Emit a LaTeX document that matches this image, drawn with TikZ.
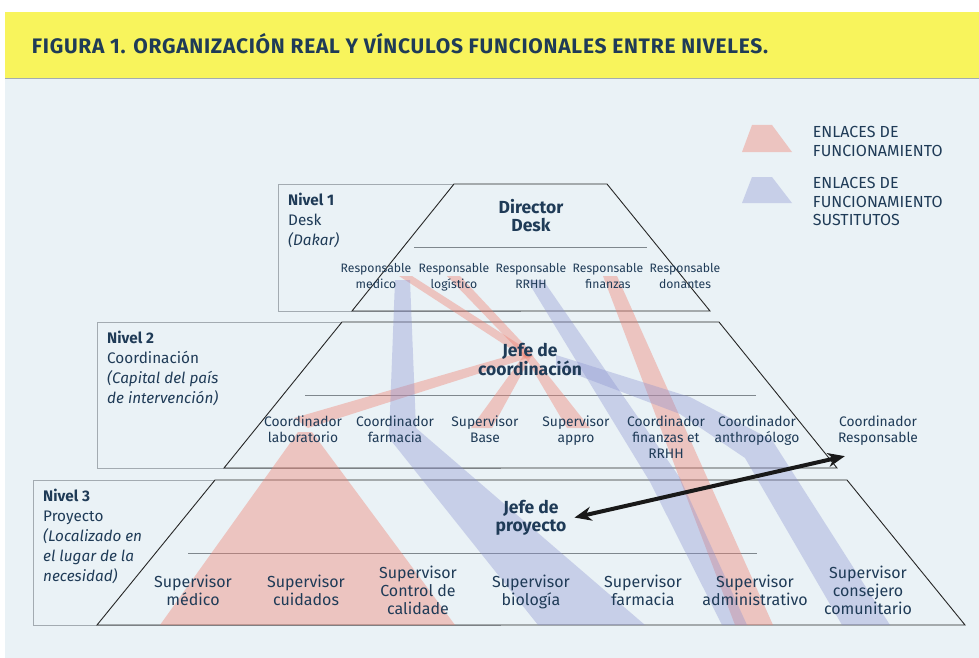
\documentclass[tikz,border=0pt]{standalone}
\usepackage{fontspec}
\setmainfont{Fira Sans}
\newfontfamily\titlefont{Fira Sans}[LetterSpace=3.5]
\usetikzlibrary{arrows.meta}
\definecolor{navy}{HTML}{1F3B57}
\definecolor{paper}{HTML}{EAF2F6}
\definecolor{banner}{HTML}{F8F45C}
\definecolor{linkred}{HTML}{F08070}
\definecolor{linkblue}{HTML}{8890D0}
\definecolor{boxgray}{HTML}{A3ABB1}
\definecolor{sepgray}{HTML}{7F878D}

\begin{document}
\begin{tikzpicture}[x=1pt, y=-1pt]
	\tikzstyle{every node} = [text=navy, inner sep=0pt, align=center]
	\tikzstyle{redlink} = [fill=linkred, fill opacity=0.4]
	\tikzstyle{bluelink} = [fill=linkblue, fill opacity=0.35]
	\tikzstyle{levelbox} = [draw=boxgray, line width=0.8pt]
	\tikzstyle{trap} = [draw=black!85, fill=paper, line width=0.9pt]
	\tikzstyle{sepline} = [draw=sepgray, line width=0.8pt]
	\tikzstyle{boss} = [font=\bfseries\fontsize{17.5}{18.5}\selectfont, anchor=base]
	\tikzstyle{staffA} = [font=\fontsize{12.2}{15.8}\selectfont, anchor=base]
	\tikzstyle{staffB} = [font=\fontsize{13.8}{16}\selectfont, anchor=base]
	\tikzstyle{staffC} = [font=\fontsize{16}{18}\selectfont, anchor=base]
	\tikzstyle{lvltext} = [font=\fontsize{15.3}{20}\selectfont, anchor=base west, align=left]
	\tikzstyle{legtext} = [font=\fontsize{16}{18.7}\selectfont, anchor=base west, align=left]
	\tikzstyle{twoway} = [{Stealth[length=17pt,width=14pt]}-{Stealth[length=17pt,width=14pt]}, line width=4pt, black!90]
	\useasboundingbox (0,0) rectangle (979,658);
	\fill[banner] (5,12) rectangle (979,78);
	\fill[paper] (5,78) rectangle (979,658);
	\draw[boxgray, line width=0.6pt] (5,78) -- (979,78);
	\node[anchor=base west, font=\titlefont\bfseries\fontsize{21}{22}\selectfont] (title) at (31.7,53.3) {FIGURA 1. ORGANIZACIÓN REAL Y VÍNCULOS FUNCIONALES ENTRE NIVELES.};

	\draw[levelbox] (278,184) rectangle (520,311);
	\draw[levelbox] (97,322) rectangle (500,468);
	\draw[levelbox] (33,480) rectangle (500,625);
	\draw[trap] (454,184) -- (607,184) -- (710,311) -- (352,311) -- cycle;
	\draw[trap] (342,322) -- (719,322) -- (837,468) -- (224,468) -- cycle;
	\draw[trap] (215,480) -- (847,480) -- (965,625) -- (97,625) -- cycle;
	\draw[sepline] (414,247) -- (647,247);
	\draw[sepline] (305,395) -- (756,395);
	\draw[sepline] (188,553) -- (757,553);

	\coordinate (hubCoord) at (528,355);
	\fill[redlink] (399,276) -- (412,276) -- (531,352) -- (525,358) -- cycle;
	\fill[redlink] (447,276) -- (460,276) -- (532,353) -- (525,357) -- cycle;
	\fill[redlink] (hubCoord) ++(-6,-3) -- ++(12,4) -- (308,428) -- (294,418) -- cycle;
	\fill[redlink] (hubCoord) ++(-4,0) -- ++(8,0) -- (492,428) -- (471,428) -- cycle;
	\fill[redlink] (hubCoord) ++(-4,0) -- ++(8,0) -- (590,428) -- (567,428) -- cycle;
	\fill[redlink] (298,432) -- (312,432) -- (455,625) -- (160,625) -- cycle;
	\fill[redlink] (603,276) -- (617,276) -- (773,625) -- (735,625) -- cycle;
	\fill[bluelink] (395,280) -- (410,280) -- (416,428) -- (645,625) -- (538,625) -- (389,438) -- cycle;
	\fill[bluelink] (527,280) -- (543,280) -- (680,478) -- (747,625) -- (722,625) -- (650,482) -- cycle;
	\fill[bluelink] (556,355) -- (690,397) -- (772,440) -- (890,625) -- (842,625) -- (745,458) -- (680,414) -- (556,367) -- cycle;

	\fill[redlink] (752,125) -- (772,125) -- (792,152) -- (742,152) -- cycle;
	\fill[bluelink] (752,177) -- (772,177) -- (792,203) -- (742,203) -- cycle;
	\node[legtext] (legRed) at (812.7,156) {ENLACES DE\\FUNCIONAMIENTO};
	\node[legtext] (legBlue) at (812.7,225.7) {ENLACES DE\\FUNCIONAMIENTO\\SUSTITUTOS};

	\node[lvltext] (nivel1) at (288,245.5) {\textbf{Nivel 1}\\Desk\\\textit{(Dakar)}};
	\node[lvltext] (nivel2) at (107,403) {\textbf{Nivel 2}\\Coordinación\\\textit{(Capital del país}\\\textit{de intervención)}};
	\node[lvltext] (nivel3) at (43,581.5) {\textbf{Nivel 3}\\Proyecto\\\textit{(Localizado en}\\\textit{el lugar de la}\\\textit{necesidad)}};

	\node[boss] (director) at (531,231.5) {Director\\Desk};
	\node[staffA] (respMed) at (376,288.3) {Responsable\\medico};
	\node[staffA] (respLog) at (454,288.3) {Responsable\\logístico};
	\node[staffA] (respRRHH) at (531,288.3) {Responsable\\RRHH};
	\node[staffA] (respFin) at (608,288.3) {Responsable\\finanzas};
	\node[staffA] (respDon) at (685,288.3) {Responsable\\donantes};

	\node[boss] (jefeCoord) at (530,375) {Jefe de\\coordinación};
	\node[staffB] (coordLab) at (303,442) {Coordinador\\laboratorio};
	\node[staffB] (coordFarm) at (395,442) {Coordinador\\farmacia};
	\node[staffB] (supBase) at (485,442) {Supervisor\\Base};
	\node[staffB] (supAppro) at (576,442) {Supervisor\\appro};
	\node[staffB] (coordFin) at (666,458) {Coordinador\\finanzas et\\RRHH};
	\node[staffB] (coordAnt) at (757,442) {Coordinador\\anthropólogo};
	\node[staffB] (coordResp) at (878,442) {Coordinador\\Responsable};

	\node[boss] (jefeProy) at (531,531.5) {Jefe de\\proyecto};
	\node[staffC] (supMed) at (193,605.3) {Supervisor\\médico};
	\node[staffC] (supCuid) at (306,605.3) {Supervisor\\cuidados};
	\node[staffC] (supCal) at (418,614) {Supervisor\\Control de\\calidade};
	\node[staffC] (supBio) at (531,605.3) {Supervisor\\biología};
	\node[staffC] (supFarm) at (643,605.3) {Supervisor\\farmacia};
	\node[staffC] (supAdm) at (755,605.3) {Supervisor\\administrativo};
	\node[staffC] (supCom) at (868,614) {Supervisor\\consejero\\comunitario};

	\draw [twoway] ([xshift=8pt]jefeProy.east) -- ([xshift=7pt,yshift=-11pt]coordResp.south west);
\end{tikzpicture}
\end{document}
